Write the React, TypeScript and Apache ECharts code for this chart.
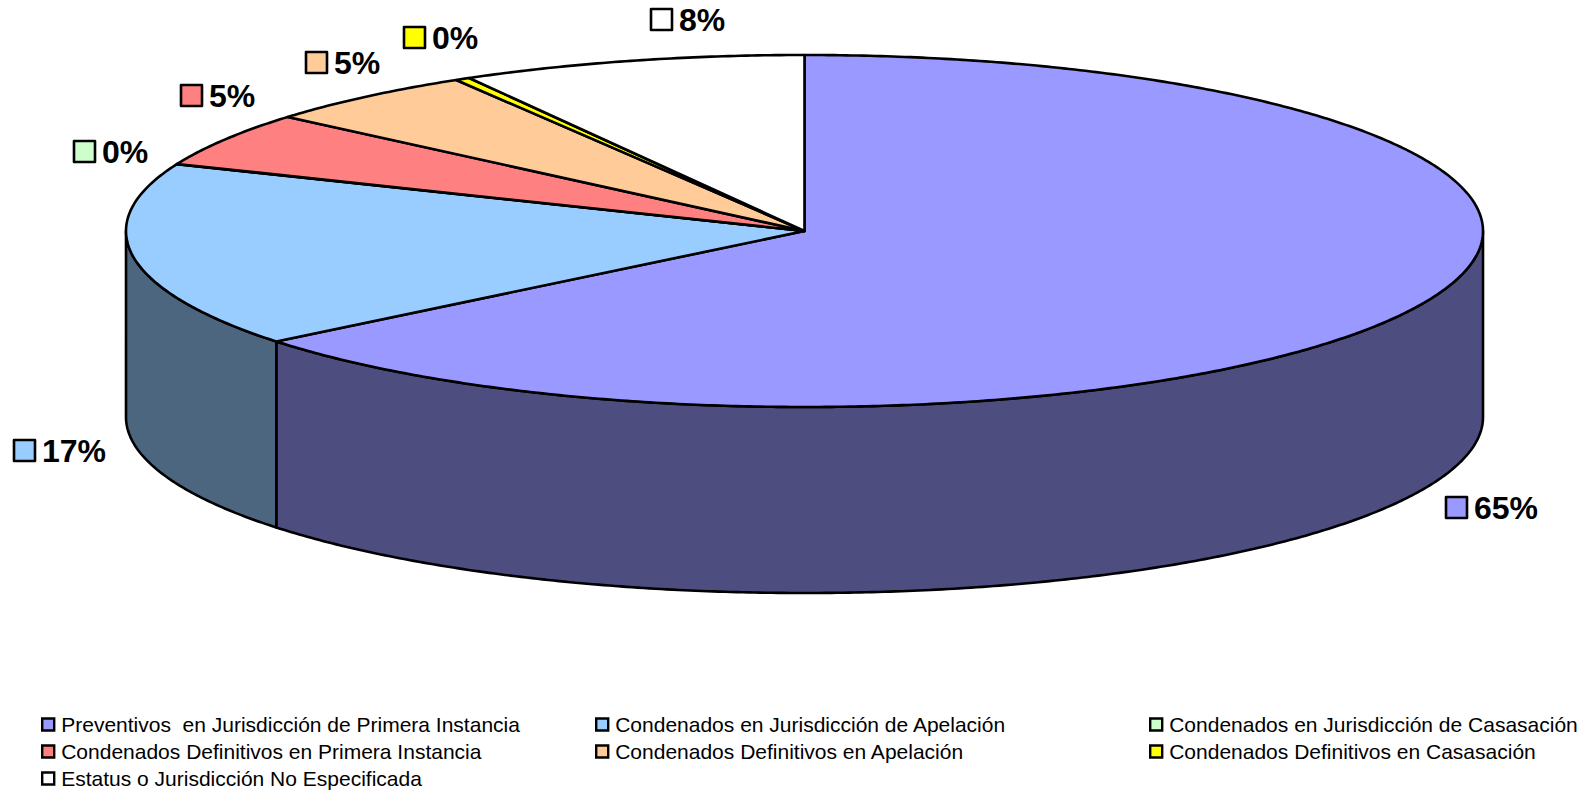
import React, { useEffect, useRef } from "react";
import * as echarts from "echarts";

const categories = [
  "Preventivos  en Jurisdicción de Primera Instancia",
  "Condenados en Jurisdicción de Apelación",
  "Condenados en Jurisdicción de Casasación",
  "Condenados Definitivos en Primera Instancia",
  "Condenados Definitivos en Apelación",
  "Condenados Definitivos en Casasación",
  "Estatus o Jurisdicción No Especificada",
];
// Slice sizes (percent of the full turn).
const sliceValues = [64.2, 17.0, 0.02, 5.0, 5.2, 0.35, 8.23];
const percentLabels = ["65%", "17%", "0%", "5%", "5%", "0%", "8%"];
const topColors = ["#9999FF", "#99CCFF", "#CCFFCC", "#FF8080", "#FFCC99", "#FFFF00", "#FFFFFF"];
const wallColors = ["#4D4D80", "#4D6680", "#668066", "#804040", "#80664D", "#808000", "#808080"];

// Layout of the outside labels: key left, key top, text left.
const labelLayout = [
  [1446, 497, 1474],
  [14, 440, 42],
  [74, 141, 102],
  [181, 85, 209],
  [306, 52, 334],
  [404, 27, 432],
  [651, 9, 679],
];
const legendBlocks = [
  { left: 41, top: 714, items: [0, 3] },
  { left: 41, top: 768, items: [6] },
  { left: 595, top: 714, items: [1, 4] },
  { left: 1149, top: 714, items: [2, 5] },
];

const PIE = { cx: 804.5, cy: 231, rx: 678.5, ry: 176, depth: 186 };
const FONT = "Liberation Sans, Arial, sans-serif";

const toXY = (deg: number, drop = 0): [number, number] => {
  const t = (deg * Math.PI) / 180;
  return [PIE.cx + PIE.rx * Math.sin(t), PIE.cy - PIE.ry * Math.cos(t) + drop];
};
const arc = (a: number, b: number, drop = 0) => {
  const pts: [number, number][] = [];
  const n = Math.max(1, Math.ceil(Math.abs(b - a) / 0.5));
  for (let i = 0; i <= n; i++) pts.push(toXY(a + ((b - a) * i) / n, drop));
  return pts;
};

const total = sliceValues.reduce((s, v) => s + v, 0);
let running = 0;
const sliceAngles = sliceValues.map((v) => {
  const start = (running / total) * 360;
  running += v;
  return [start, (running / total) * 360];
});

const stroke = { stroke: "#000", lineWidth: 2.6, lineJoin: "round" };

const makeSeries = (idx: number) => ({
  type: "custom",
  name: categories[idx],
  coordinateSystem: "none",
  silent: true,
  itemStyle: { color: topColors[idx], borderColor: "#000", borderWidth: 2.4 },
  data: [{ value: sliceAngles[idx] }],
  renderItem: (_p: any, api: any) => {
    const a0 = api.value(0);
    const a1 = api.value(1);
    const children: any[] = [];
    const w0 = Math.max(a0, 90);
    const w1 = Math.min(a1, 270);
    if (w1 > w0) {
      children.push({
        type: "polygon",
        shape: { points: [...arc(w0, w1), ...arc(w1, w0, PIE.depth)] },
        style: { fill: wallColors[idx], ...stroke },
      });
    }
    children.push({
      type: "polygon",
      shape: { points: [[PIE.cx, PIE.cy], ...arc(a0, a1)] },
      style: { fill: topColors[idx], ...stroke },
    });
    const [kx, ky, tx] = labelLayout[idx];
    children.push({
      type: "rect",
      shape: { x: kx, y: ky, width: 21, height: 21 },
      style: { fill: topColors[idx], ...stroke },
    });
    children.push({
      type: "text",
      x: tx,
      y: ky + 11,
      style: {
        text: percentLabels[idx],
        fill: "#000",
        font: `bold 32px ${FONT}`,
        textAlign: "left",
        textVerticalAlign: "middle",
      },
    });
    return { type: "group", children };
  },
});

export default function App() {
  const ref = useRef<HTMLDivElement>(null);
  useEffect(() => {
    document.body.style.margin = "0";
    document.body.style.overflow = "hidden";
    const chart = echarts.init(ref.current!, undefined, { renderer: "svg" });
    chart.setOption({
      animation: false,
      backgroundColor: "#fff",
      legend: legendBlocks.map((c) => ({
        orient: "vertical",
        left: c.left,
        top: c.top,
        padding: 0,
        itemWidth: 12,
        itemHeight: 12,
        itemGap: 6,
        selectedMode: false,
        icon: "rect",
        data: c.items.map((i) => categories[i]),
        itemStyle: { borderColor: "#000", borderWidth: 2.4 },
        textStyle: { fontFamily: FONT, fontSize: 21, color: "#000", lineHeight: 12, padding: [0, 0, 0, 2] },
      })),
      series: categories.map((_, i) => makeSeries(i)),
    });
    return () => chart.dispose();
  }, []);
  return <div ref={ref} style={{ width: 1585, height: 791 }} />;
}
